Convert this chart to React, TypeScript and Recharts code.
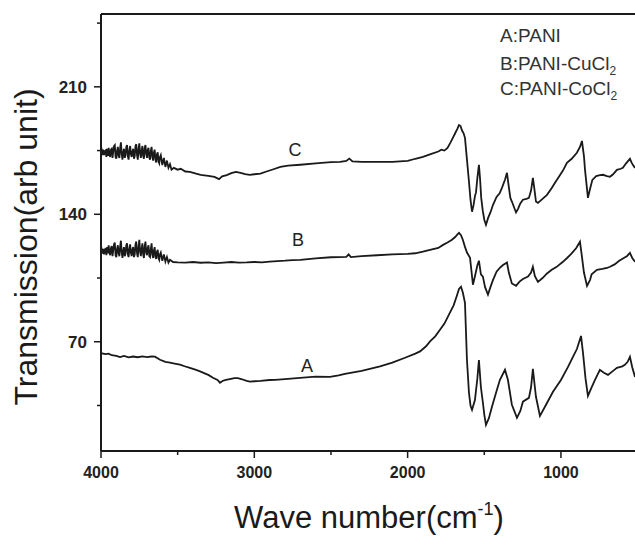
import React from 'react';
import { LineChart, Line, XAxis, YAxis, ReferenceLine, ReferenceDot } from 'recharts';

// [wave number, transmission]
const curveA: number[][] = [
  [4000, 63.7], [3970, 63.2], [3950, 63.5], [3930, 62.6], [3900, 62.2], [3876, 61.6], [3850, 62.2],
  [3820, 61.4], [3790, 61.9], [3760, 61.5], [3730, 62], [3700, 61.6], [3670, 61.9], [3648, 61.8],
  [3615, 60.1], [3580, 59], [3550, 58.5], [3520, 58], [3485, 57.4], [3450, 56.4], [3420, 55.6],
  [3380, 54.5], [3354, 53.7], [3320, 52.5], [3300, 51.8], [3270, 50.2], [3240, 49], [3224, 47.5],
  [3205, 48.6], [3185, 49.1], [3160, 49.5], [3130, 50], [3107, 50], [3080, 49.4], [3050, 48.5],
  [3028, 48.1], [3000, 48.3], [2960, 48.5], [2900, 49], [2865, 49.1], [2800, 49.5], [2702, 50.2],
  [2600, 50.8], [2507, 50.7], [2450, 51.5], [2409, 52.4], [2300, 54], [2180, 56.5], [2100, 58.5],
  [2017, 61.2], [1950, 63.5], [1919, 64.7], [1880, 67.5], [1854, 70.2], [1820, 73], [1789, 76.6],
  [1760, 80], [1724, 86], [1700, 90], [1680, 95], [1665, 99], [1652, 100.2], [1640, 97],
  [1626, 91.4], [1613, 60], [1600, 42], [1590, 35], [1580, 32.6], [1561, 38], [1545, 50],
  [1535, 60], [1522, 45], [1509, 36.5], [1500, 30], [1489, 24.4], [1470, 28], [1450, 34.3],
  [1420, 43], [1398, 49.1], [1365, 54.6], [1346, 49.1], [1320, 35.4], [1287, 28.2], [1265, 32],
  [1248, 37.1], [1209, 39.2], [1195, 45], [1183, 55.1], [1170, 45], [1163, 39.8], [1137, 29.3],
  [1100, 35], [1052, 42.5], [1000, 49], [954, 56.2], [920, 62], [896, 66], [869, 73.2],
  [856, 63.8], [840, 50], [824, 40.3], [800, 45], [778, 49.1], [746, 54.6], [720, 53],
  [693, 51.8], [660, 54], [635, 55.7], [600, 56.5], [583, 57.3], [565, 59], [550, 61.7],
  [535, 56], [517, 50.7],
];

const curveB: number[][] = [
  [4000, 119.4], [3995, 120.5], [3990, 118.5], [3985, 121], [3980, 118], [3975, 120], [3970, 121.5],
  [3965, 117.5], [3960, 122], [3955, 118.5], [3950, 123], [3945, 119], [3940, 117.5], [3935, 121.5],
  [3930, 122.5], [3925, 117], [3920, 120.5], [3915, 123.5], [3910, 124.5], [3905, 117.5], [3900, 116.5],
  [3895, 121], [3890, 123], [3885, 118.5], [3880, 117], [3875, 122.5], [3870, 125.5], [3865, 119],
  [3860, 116], [3855, 120], [3850, 122], [3845, 117], [3840, 118.5], [3835, 123], [3830, 124],
  [3825, 118], [3820, 116.5], [3815, 121], [3810, 123.5], [3805, 119], [3800, 117], [3795, 120.5],
  [3790, 122], [3785, 116.5], [3780, 118], [3775, 123.5], [3770, 125], [3765, 118.5], [3760, 116.5],
  [3755, 122], [3750, 126], [3745, 119.5], [3740, 117], [3735, 121], [3730, 124], [3725, 118],
  [3720, 116], [3715, 122.5], [3710, 125], [3705, 119], [3700, 117.5], [3695, 121.5], [3690, 123],
  [3685, 117], [3680, 116.5], [3675, 121], [3670, 124], [3665, 118], [3660, 116], [3655, 120],
  [3650, 122], [3645, 116.5], [3640, 115.5], [3635, 119.5], [3630, 120.5], [3625, 116], [3620, 115],
  [3615, 118], [3610, 119], [3600, 114.5], [3590, 118], [3580, 114], [3570, 116.5], [3560, 113.5],
  [3550, 115], [3530, 113.8], [3500, 113.6], [3450, 113.5],
  [3400, 113.8], [3350, 113.4], [3300, 113.6], [3250, 113.2], [3200, 113.5], [3150, 113.8], [3100, 113.5],
  [3050, 113.6], [3000, 113.8], [2950, 113.6], [2900, 114], [2850, 114.3], [2800, 114.5], [2750, 114.8],
  [2700, 115], [2600, 115.8], [2500, 116.4], [2400, 116.6], [2385, 118], [2370, 116.5], [2300, 117],
  [2200, 117.5], [2100, 118], [2000, 118.3], [1950, 118.6], [1900, 119.5], [1854, 120.5], [1800, 121.5],
  [1769, 123.2], [1740, 124.5], [1711, 126], [1690, 127.5], [1675, 129], [1665, 129.8], [1652, 128.5],
  [1640, 126], [1626, 122.1], [1613, 119], [1593, 116.1], [1574, 101.3], [1561, 106], [1545, 112],
  [1535, 114.5], [1522, 107], [1509, 105.8], [1495, 100], [1476, 95.9], [1460, 100], [1443, 104],
  [1420, 108.5], [1400, 110.5], [1380, 112], [1352, 113.5], [1340, 108], [1320, 102], [1293, 100.7],
  [1270, 103], [1248, 104.5], [1215, 105.8], [1195, 108], [1183, 111.2], [1170, 106], [1150, 102.9],
  [1120, 105], [1091, 107.5], [1060, 109.5], [1030, 111], [987, 113.9], [960, 116], [930, 118.5],
  [900, 121.5], [876, 124.9], [865, 118], [850, 108], [830, 100.7], [810, 104], [800, 107],
  [765, 109.5], [730, 110], [700, 110.5], [680, 111.2], [650, 112.5], [620, 114.5], [590, 116],
  [570, 117], [550, 118.8], [535, 116], [517, 114],
];

const curveC: number[][] = [
  [4000, 174], [3995, 175], [3990, 172.5], [3985, 175.5], [3980, 172.5], [3975, 174.5], [3970, 175],
  [3965, 171.5], [3960, 176], [3955, 172], [3950, 176.5], [3945, 173], [3940, 171.5], [3935, 175.5],
  [3930, 176], [3925, 171], [3920, 174.5], [3915, 177.5], [3910, 178], [3905, 171.5], [3900, 170.5],
  [3895, 175], [3890, 177], [3885, 172], [3880, 171], [3875, 176.5], [3870, 179.5], [3865, 173],
  [3860, 170], [3855, 174], [3850, 176], [3845, 171], [3840, 172.5], [3835, 177], [3830, 178],
  [3825, 172], [3820, 170], [3815, 175], [3810, 177.5], [3805, 173], [3800, 171.5], [3795, 174.5],
  [3790, 176], [3785, 170.5], [3780, 172], [3775, 177.5], [3770, 178.5], [3765, 172.5], [3760, 170],
  [3755, 176], [3750, 179], [3745, 173.5], [3740, 171], [3735, 175], [3730, 177.5], [3725, 172],
  [3720, 170.5], [3715, 176.5], [3710, 178], [3705, 173], [3700, 171], [3695, 175.5], [3690, 176.5],
  [3685, 171], [3680, 170], [3675, 175], [3670, 177], [3665, 171.5], [3660, 169.5], [3655, 174],
  [3650, 175.5], [3645, 170], [3640, 168.5], [3635, 173], [3630, 174], [3625, 169], [3620, 168],
  [3615, 171.5], [3610, 172.5], [3600, 167], [3590, 171],
  [3580, 166], [3570, 169.5], [3560, 165.5], [3550, 167.5], [3540, 164.5], [3525, 165.5], [3500, 164.5],
  [3480, 165], [3450, 163.5], [3420, 163.3], [3380, 162.3], [3350, 161.7], [3300, 161.1], [3260, 160.5],
  [3230, 159.3], [3210, 160.8], [3180, 161.5], [3150, 162.6], [3120, 163.3], [3090, 162.8], [3060, 162],
  [3030, 161.7], [3000, 162], [2960, 162.3], [2920, 163.5], [2880, 164.6], [2830, 166], [2780, 166.7],
  [2700, 167.2], [2600, 168], [2500, 168.6], [2440, 168.8], [2400, 169.3], [2380, 170.6], [2360, 169],
  [2300, 168.8], [2200, 168.8], [2100, 168.8], [2000, 169.3], [1950, 170.5], [1900, 171.5], [1850, 173],
  [1800, 174.5], [1780, 175.5], [1760, 175], [1740, 176.5], [1720, 179.5], [1705, 182], [1690, 184.5],
  [1675, 187], [1665, 189], [1655, 188.5], [1645, 186], [1635, 184.5], [1626, 182], [1613, 170],
  [1600, 158], [1590, 148], [1580, 141.4], [1570, 145], [1561, 150], [1554, 152], [1545, 160],
  [1535, 167.2], [1528, 160], [1520, 149], [1510, 142], [1500, 137], [1489, 134.2], [1475, 138],
  [1460, 141], [1443, 145.2], [1420, 149.5], [1400, 151.5], [1385, 154.5], [1365, 159], [1352, 162.8],
  [1340, 155], [1330, 149], [1320, 147], [1293, 141], [1280, 143], [1265, 146], [1248, 148],
  [1225, 148.5], [1209, 149], [1195, 153], [1183, 160], [1175, 155], [1163, 147], [1150, 146.3],
  [1120, 148.5], [1091, 150.7], [1060, 154.5], [1039, 157.3], [1010, 161], [987, 164], [961, 168.3],
  [930, 170.5], [896, 173.8], [876, 177], [863, 180.3], [850, 172], [843, 164.4], [830, 154],
  [824, 149], [810, 154], [795, 158.9], [770, 161], [746, 161.5], [726, 161.7], [700, 161],
  [680, 160.6], [660, 162], [635, 164.4], [610, 165], [596, 165.5], [575, 168], [560, 169.5],
  [550, 170.5], [540, 168.5], [530, 167], [517, 165.5],
];

const xTicks = [4000, 3500, 3000, 2500, 2000, 1500, 1000];
const xLabels = [4000, 3000, 2000, 1000];
const yTicks = [35, 70, 105, 140, 175, 210, 245];
const yLabels = [70, 140, 210];

const toPoints = (c: number[][]) => c.map(([wn, t]) => ({ wn, t }));
const dataA = toPoints(curveA);
const dataB = toPoints(curveB);
const dataC = toPoints(curveC);

const font = '"Liberation Sans", Arial, sans-serif';
const ink = '#1a1a1a';

const XTick = (props: any) => {
  const { x, y, payload } = props;
  const major = xLabels.includes(payload.value);
  return (
    <g>
      <line x1={x} x2={x} y1={y} y2={y + (major ? 7 : 4)} stroke={ink} strokeWidth={1.5} />
      {major && (
        <text x={x} y={y + 27} textAnchor="middle" fontSize={16} fontWeight="bold" fill="#222" fontFamily={font}>
          {payload.value}
        </text>
      )}
    </g>
  );
};

const YTick = (props: any) => {
  const { x, y, payload } = props;
  const major = yLabels.includes(payload.value);
  return (
    <g>
      <line x1={x} x2={x - (major ? 7 : 4)} y1={y} y2={y} stroke={ink} strokeWidth={1.5} />
      {major && (
        <text x={x - 14} y={y + 6} textAnchor="end" fontSize={17} fontWeight="bold" fill="#222" fontFamily={font}>
          {payload.value}
        </text>
      )}
    </g>
  );
};

const XTitle = () => (
  <text x={369} y={528} textAnchor="middle" fontSize={31} fill={ink} fontFamily={font}>
    Wave number(cm<tspan dy={-13} fontSize={18}>-1</tspan><tspan dy={13}>)</tspan>
  </text>
);

const YTitle = () => (
  <text transform="rotate(-90)" x={-247} y={37} textAnchor="middle" fontSize={32} fill={ink} fontFamily={font}>
    Transmission(arb unit)
  </text>
);

const curveLabel = (value: string) => ({
  value,
  position: 'center' as const,
  fontSize: 18,
  fill: '#222',
  fontFamily: font,
});

export default function App() {
  return (
    <div style={{ position: 'absolute', left: 0, top: 0, width: 635, height: 538, background: '#fff', fontFamily: font }}>
      <LineChart width={635} height={538} margin={{ top: 14, right: 0, bottom: 0, left: 0 }}>
        <XAxis
          dataKey="wn"
          type="number"
          domain={[517, 4000]}
          reversed
          allowDataOverflow
          ticks={xTicks}
          interval={0}
          height={87}
          tickSize={0}
          tickMargin={0}
          tickLine={false}
          tick={<XTick />}
          axisLine={{ stroke: ink, strokeWidth: 2 }}
          label={{ content: <XTitle /> }}
        />
        <YAxis
          type="number"
          domain={[10, 250]}
          allowDataOverflow
          ticks={yTicks}
          interval={0}
          width={101}
          tickSize={0}
          tickMargin={0}
          tickLine={false}
          tick={<YTick />}
          axisLine={{ stroke: ink, strokeWidth: 2 }}
          label={{ content: <YTitle /> }}
        />
        <ReferenceLine y={250} stroke={ink} strokeWidth={2} />
        <Line data={dataA} dataKey="t" type="linear" stroke={ink} strokeWidth={1.8} dot={false} isAnimationActive={false} />
        <Line data={dataB} dataKey="t" type="linear" stroke={ink} strokeWidth={1.8} dot={false} isAnimationActive={false} />
        <Line data={dataC} dataKey="t" type="linear" stroke={ink} strokeWidth={1.8} dot={false} isAnimationActive={false} />
        <ReferenceDot x={2657} y={57} r={0} fill="none" stroke="none" label={curveLabel('A')} />
        <ReferenceDot x={2715} y={126} r={0} fill="none" stroke="none" label={curveLabel('B')} />
        <ReferenceDot x={2735} y={175.5} r={0} fill="none" stroke="none" label={curveLabel('C')} />
      </LineChart>
      <svg width={635} height={538} style={{ position: 'absolute', left: 0, top: 0, pointerEvents: 'none' }}>
        <g fontFamily={font} fontSize={19} fill="#333">
          <text x={500} y={42}>A:PANI</text>
          <text x={500} y={70}>
            B:PANI-CuCl<tspan fontSize={12} dy={5}>2</tspan>
          </text>
          <text x={500} y={95}>
            C:PANI-CoCl<tspan fontSize={12} dy={5}>2</tspan>
          </text>
        </g>
      </svg>
    </div>
  );
}
